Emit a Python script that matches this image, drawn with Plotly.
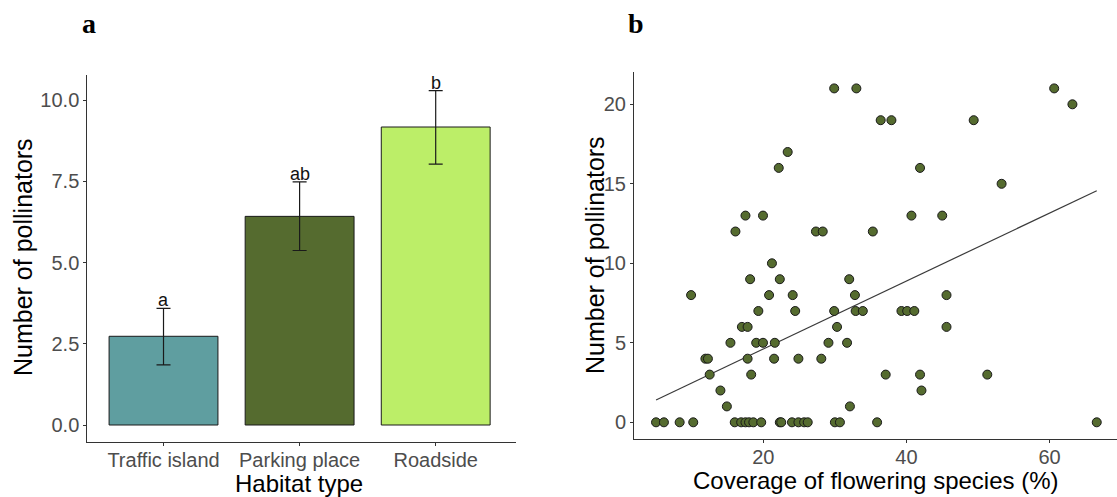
import plotly.graph_objects as go

W, H = 1117, 497

# ---- Panel a data ----
habitats = ["Traffic island", "Parking place", "Roadside"]
mean_pollinators = [2.73, 6.42, 9.17]
err_upper = [0.86, 1.06, 1.12]
err_lower = [0.88, 1.05, 1.14]
sig_letters = ["a", "ab", "b"]
bar_colors = ["#5F9EA0", "#556B2F", "#BCEE68"]

# ---- Panel b data ----
cover = [29.9, 33.0, 60.65,
         63.2,
         36.4, 37.9, 49.4,
         23.4,
         22.15, 41.9,
         53.3,
         17.5, 19.95, 40.7, 45.0,
         16.1, 27.35, 28.3, 35.3,
         21.2,
         18.15, 22.3, 32.0,
         9.9, 20.8, 24.1, 32.8, 45.6,
         19.3, 24.45, 29.9, 32.9, 33.9, 39.3, 40.1, 41.1,
         17.0, 17.8, 30.3, 45.6,
         15.4, 19.0, 19.95, 21.6, 29.1, 31.7,
         11.9, 12.25, 17.8, 21.5, 24.9, 28.1,
         12.5, 18.3, 37.1, 41.9, 51.3,
         14.0, 42.1,
         14.9, 32.1,
         5.0, 6.1, 8.3, 10.2, 16.0, 16.9, 17.5, 18.0, 18.6, 19.7, 22.3, 22.5,
         24.0, 24.9, 25.7, 26.2, 30.0, 30.7, 35.9, 66.6]
pollinators = [21, 21, 21,
               20,
               19, 19, 19,
               17,
               16, 16,
               15,
               13, 13, 13, 13,
               12, 12, 12, 12,
               10,
               9, 9, 9,
               8, 8, 8, 8, 8,
               7, 7, 7, 7, 7, 7, 7, 7,
               6, 6, 6, 6,
               5, 5, 5, 5, 5, 5,
               4, 4, 4, 4, 4, 4,
               3, 3, 3, 3, 3,
               2, 2,
               1, 1,
               0, 0, 0, 0, 0, 0, 0, 0, 0, 0, 0, 0,
               0, 0, 0, 0, 0, 0, 0, 0]
fit_intercept = 0.34
fit_slope = 0.2136

trend_x = [min(cover), max(cover)]
trend_y = [fit_intercept + fit_slope * v for v in trend_x]

FONT = "Liberation Sans"
TICK_COLOR = "#4d4d4d"
AX_COLOR = "#333333"


def px(x):
    return x / W


def py(y):
    return 1 - y / H


fig = go.Figure()

fig.add_trace(go.Bar(
    x=habitats, y=mean_pollinators, width=0.8,
    marker=dict(color=bar_colors, line=dict(color="#1a1a1a", width=1)),
    error_y=dict(type="data", symmetric=False, array=err_upper, arrayminus=err_lower,
                 color="#1a1a1a", thickness=1.2, width=7),
    xaxis="x", yaxis="y", showlegend=False, hoverinfo="skip",
))

fig.add_trace(go.Scatter(
    x=trend_x, y=trend_y, mode="lines",
    line=dict(color="#3a3a3a", width=1.2),
    xaxis="x2", yaxis="y2", showlegend=False, hoverinfo="skip",
))
fig.add_trace(go.Scatter(
    x=cover, y=pollinators, mode="markers",
    marker=dict(size=9, color="#556B2F", line=dict(color="#1a1a1a", width=1)),
    xaxis="x2", yaxis="y2", showlegend=False, hoverinfo="skip",
))

axis_common = dict(showline=True, linecolor=AX_COLOR, linewidth=1, ticks="outside",
                   ticklen=3, tickwidth=1, tickcolor=AX_COLOR, showgrid=False,
                   zeroline=False, tickfont=dict(family=FONT, size=20, color=TICK_COLOR))

annotations = []
for i, (lab, top) in enumerate(zip(sig_letters, [m + e for m, e in zip(mean_pollinators, err_upper)])):
    annotations.append(dict(x=habitats[i], y=top, xref="x", yref="y", text=lab,
                            showarrow=False, yanchor="bottom", yshift=-4,
                            font=dict(family=FONT, size=18, color="#111111")))

# axis titles & panel labels
annotations += [
    dict(x=px(23), y=py(257), xref="paper", yref="paper", text="Number of pollinators",
         textangle=-90, showarrow=False, xanchor="center", yanchor="middle",
         font=dict(family=FONT, size=25, color="black")),
    dict(x=px(299), y=0, xref="paper", yref="paper", text="Habitat type",
         showarrow=False, xanchor="center", yanchor="bottom", yshift=-2,
         font=dict(family=FONT, size=24, color="black")),
    dict(x=px(595), y=py(255), xref="paper", yref="paper", text="Number of pollinators",
         textangle=-90, showarrow=False, xanchor="center", yanchor="middle",
         font=dict(family=FONT, size=25, color="black")),
    dict(x=px(876), y=0, xref="paper", yref="paper", text="Coverage of flowering species (%)",
         showarrow=False, xanchor="center", yanchor="bottom", yshift=1,
         font=dict(family=FONT, size=24, color="black")),
    dict(x=px(89), y=py(24), xref="paper", yref="paper", text="<b>a</b>",
         showarrow=False, xanchor="center", yanchor="middle",
         font=dict(family="Liberation Serif", size=28, color="black")),
    dict(x=px(636), y=py(24), xref="paper", yref="paper", text="<b>b</b>",
         showarrow=False, xanchor="center", yanchor="middle",
         font=dict(family="Liberation Serif", size=28, color="black")),
]

fig.update_layout(
    width=W, height=H,
    margin=dict(l=0, r=0, t=0, b=0),
    paper_bgcolor="white", plot_bgcolor="white",
    xaxis=dict(domain=[px(87.3), px(516)], range=[-0.56, 2.59], type="category",
               anchor="y", ticklabelstandoff=-3, **axis_common),
    yaxis=dict(domain=[py(442.3), py(75)], range=[-0.532, 10.77],
               tickvals=[0, 2.5, 5, 7.5, 10], ticktext=["0.0", "2.5", "5.0", "7.5", "10.0"],
               anchor="x", **axis_common),
    xaxis2=dict(domain=[px(634), 1.0], range=[1.92, 69.43], tickvals=[20, 40, 60],
                anchor="y2", ticklabelstandoff=-3, **axis_common),
    yaxis2=dict(domain=[py(439), py(71.7)], range=[-1.05, 22.05], tickvals=[0, 5, 10, 15, 20],
                anchor="x2", **axis_common),
    annotations=annotations,
    bargap=0.2,
)

fig.write_html("out.html")
